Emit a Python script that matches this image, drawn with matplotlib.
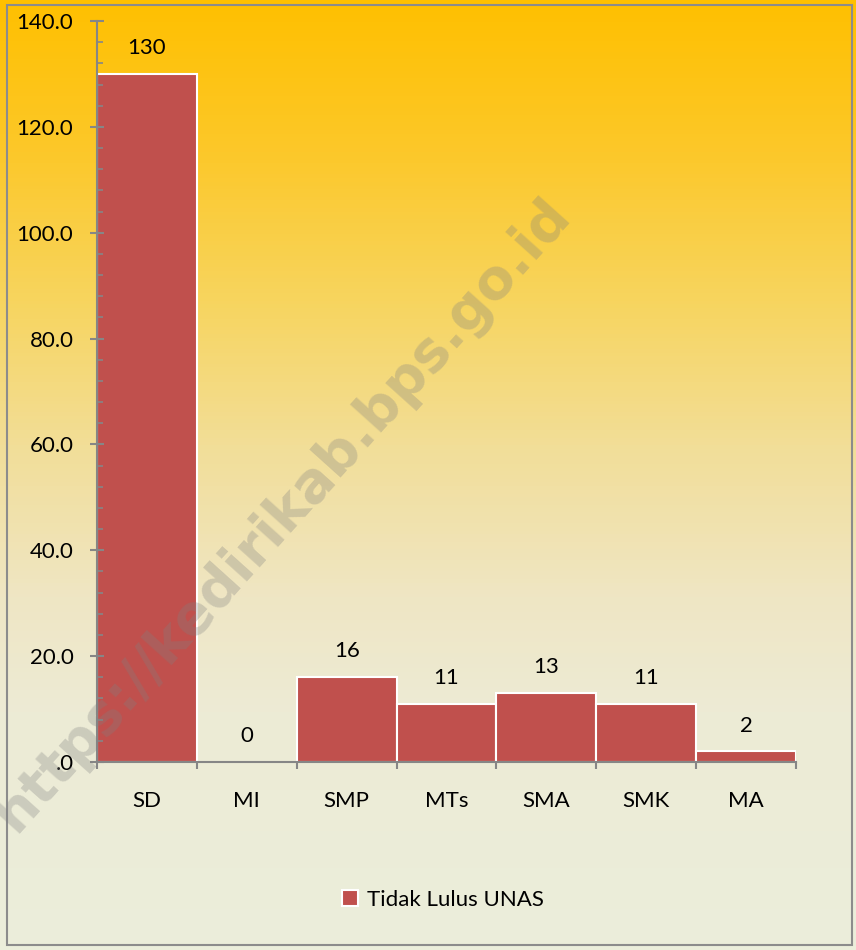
import matplotlib.pyplot as plt
import numpy as np
from matplotlib.colors import LinearSegmentedColormap
from matplotlib.patches import Rectangle
from matplotlib.ticker import FuncFormatter, MultipleLocator

categories = ['SD', 'MI', 'SMP', 'MTs', 'SMA', 'SMK', 'MA']
tidak_lulus = [130, 0, 16, 11, 13, 11, 2]
series_name = 'Tidak Lulus UNAS'
watermark = 'https://kedirikab.bps.go.id'

plt.rcParams['font.family'] = ['Lato', 'DejaVu Sans']

fig = plt.figure(figsize=(8.56, 9.5), dpi=100)

# background gradient (gold at top fading to cream)
bg = fig.add_axes([0, 0, 1, 1], zorder=-1)
grad_stops = [(0.0, '#FFC000'), (0.16, '#FCC82A'), (0.32, '#F7D560'),
              (0.47, '#F2DE98'), (0.63, '#EFE6C4'), (0.75, '#EDEBD5'),
              (1.0, '#EBEEDB')]
cmap = LinearSegmentedColormap.from_list('bg', grad_stops)
bg.imshow(np.linspace(0, 1, 256).reshape(-1, 1), aspect='auto', cmap=cmap,
          extent=[0, 1, 0, 1])
bg.set_axis_off()
fig.patches.append(Rectangle((7 / 856, 5 / 950), 845 / 856, 940 / 950,
                             transform=fig.transFigure, fill=False,
                             edgecolor='#8C8C8C', linewidth=1.5))

ax = fig.add_axes([97 / 856, 188 / 950, 699 / 856, 741 / 950])
ax.set_facecolor('none')

x = np.arange(len(categories))
bars = ax.bar(x, tidak_lulus, width=1.0, color='#C0504D', edgecolor='white',
              linewidth=1.5, label=series_name)
for xi, v in zip(x, tidak_lulus):
    ax.text(xi, v + 3.0, f'{v}', ha='center', va='bottom', fontsize=16)

ax.set_xlim(-0.5, len(categories) - 0.5)
ax.set_ylim(0, 140)
ax.yaxis.set_major_locator(MultipleLocator(20))
ax.yaxis.set_minor_locator(MultipleLocator(4))
ax.yaxis.set_major_formatter(FuncFormatter(
    lambda v, p: '.0' if v == 0 else f'{v:.1f}'))
ax.set_xticks(x)
ax.set_xticklabels(categories)
ax.set_xticks(np.arange(len(categories) + 1) - 0.5, minor=True)

for s in ['top', 'right']:
    ax.spines[s].set_visible(False)
for s in ['left', 'bottom']:
    ax.spines[s].set_color('#868686')
    ax.spines[s].set_linewidth(1.5)

ax.tick_params(axis='y', which='major', direction='inout', length=10,
               width=1.5, color='#868686', labelsize=16, pad=12)
ax.tick_params(axis='y', which='minor', direction='in', length=4,
               width=1.2, color='#868686')
ax.tick_params(axis='x', which='major', length=0, labelsize=16, pad=21)
ax.tick_params(axis='x', which='minor', direction='out', length=5,
               width=1.5, color='#868686')

fig.legend(handles=[bars], labels=[series_name], loc='center',
           bbox_to_anchor=(443 / 856, 1 - 900 / 950), frameon=False,
           fontsize=16, handlelength=0.7, handleheight=0.7,
           handletextpad=0.4)

fig.text(283 / 856, 1 - 515 / 950, watermark, rotation=48, ha='center',
         va='center', fontsize=40, fontweight='bold', color='#808080',
         alpha=0.3, family='DejaVu Sans', rotation_mode='anchor')

fig.savefig('out.png', dpi=100)
